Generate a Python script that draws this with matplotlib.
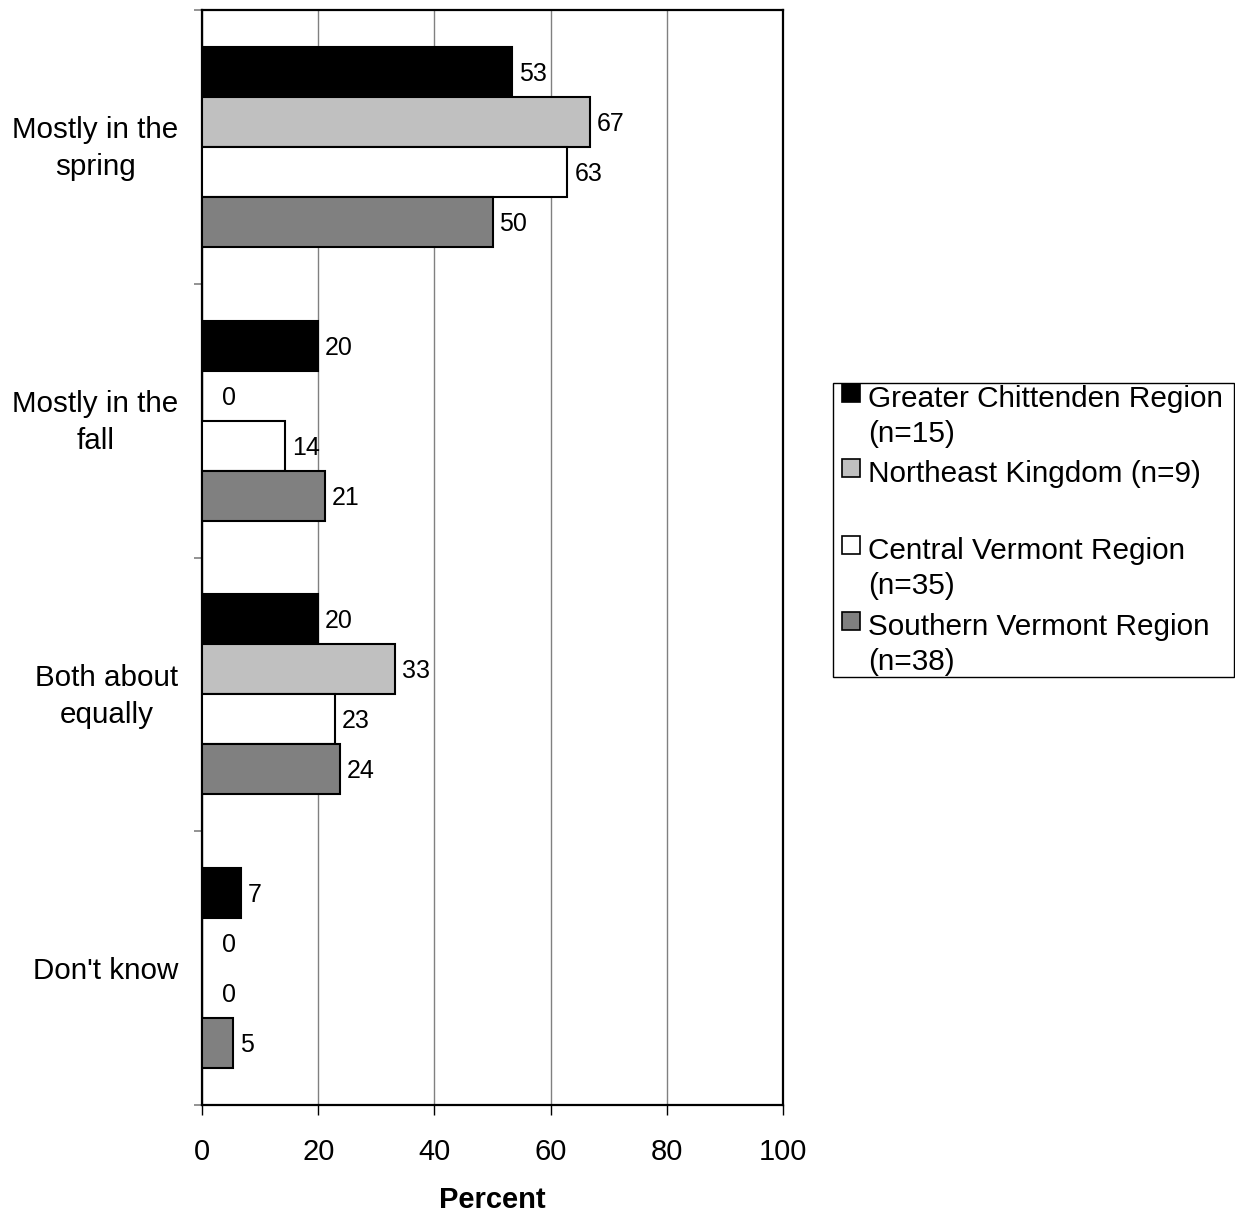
import matplotlib
matplotlib.use("Agg")
import matplotlib.pyplot as plt
from matplotlib.patches import Rectangle
import numpy as np

plt.rcParams['font.family'] = ['Liberation Sans', 'DejaVu Sans']

categories = ["Mostly in the\nspring", "Mostly in the\nfall", "Both about\nequally", "Don't know"]
series_names = ["Greater Chittenden Region\n(n=15)", "Northeast Kingdom (n=9)\n ",
                "Central Vermont Region\n(n=35)", "Southern Vermont Region\n(n=38)"]
greater = [53.3, 20.0, 20.0, 6.7]
northeast = [66.7, 0.0, 33.3, 0.0]
central = [62.9, 14.3, 22.9, 0.0]
southern = [50.0, 21.1, 23.7, 5.3]
x_ticks = [0, 20, 40, 60, 80, 100]
colors = ["#000000", "#c0c0c0", "#ffffff", "#808080"]

W, H = 1235, 1215
fig = plt.figure(figsize=(W / 100, H / 100), dpi=100)
fx = lambda px: px / W
fy = lambda py: 1 - py / H

ax = fig.add_axes([fx(202), fy(1105), fx(783) - fx(202), fy(10) - fy(1105)])

series = [greater, northeast, central, southern]
n = len(categories)
centers = np.arange(n) + 0.5
h = 50 / 273.75
for i, vals in enumerate(series):
    ys = centers + (i - 1.5) * h
    ax.barh(ys, vals, height=h, color=colors[i], edgecolor="black", linewidth=1.5, zorder=3)
    for y, v in zip(ys, vals):
        ax.annotate(f"{round(v):d}", xy=(v, y), xytext=(7 if v > 0 else 20, -2),
                    textcoords="offset pixels", ha="left", va="center", fontsize=18, zorder=4)

ax.set_xlim(0, 100)
ax.set_ylim(n, 0)
ax.set_xticks(x_ticks)
ax.set_xticklabels([str(t) for t in x_ticks], fontsize=21)
# two-line category labels sit slightly higher to compensate text-box descent
label_pos = [c - 0.02 * c_lbl.count("\n") for c, c_lbl in zip(centers, categories)]
ax.set_yticks(label_pos)
ax.set_yticklabels(categories, fontsize=21.3, multialignment="center", linespacing=1.4)
ax.set_yticks(np.arange(n + 1), minor=True)
ax.tick_params(axis="y", which="major", length=0, pad=17)
ax.tick_params(axis="y", which="minor", length=6, width=1.2, color="#808080", direction="out")
ax.tick_params(axis="x", which="major", length=7, width=1, color="black", direction="out", pad=17)
ax.grid(axis="x", color="#808080", linewidth=1, zorder=0)
ax.set_axisbelow(True)
for s in ax.spines.values():
    s.set_linewidth(1.6)
    s.set_color("black")
ax.set_xlabel("Percent", fontsize=21, fontweight="bold", labelpad=14)

# legend
box = Rectangle((fx(833), fy(677)), fx(1234) - fx(833), fy(383) - fy(677),
                transform=fig.transFigure, facecolor="white", edgecolor="black", linewidth=1.0)
fig.patches.append(box)
entry_y = [396, 471, 548, 624]
for i, (name, yy) in enumerate(zip(series_names, entry_y)):
    sq = Rectangle((fx(842), fy(yy + 6)), fx(18), 18 / H, transform=fig.transFigure,
                   facecolor=colors[i], edgecolor="black", linewidth=1.2)
    fig.patches.append(sq)
    fig.text(fx(868), fy(yy - 11), name, fontsize=21.4, ha="left", va="top", linespacing=1.32)

fig.savefig("out.png", dpi=100)
